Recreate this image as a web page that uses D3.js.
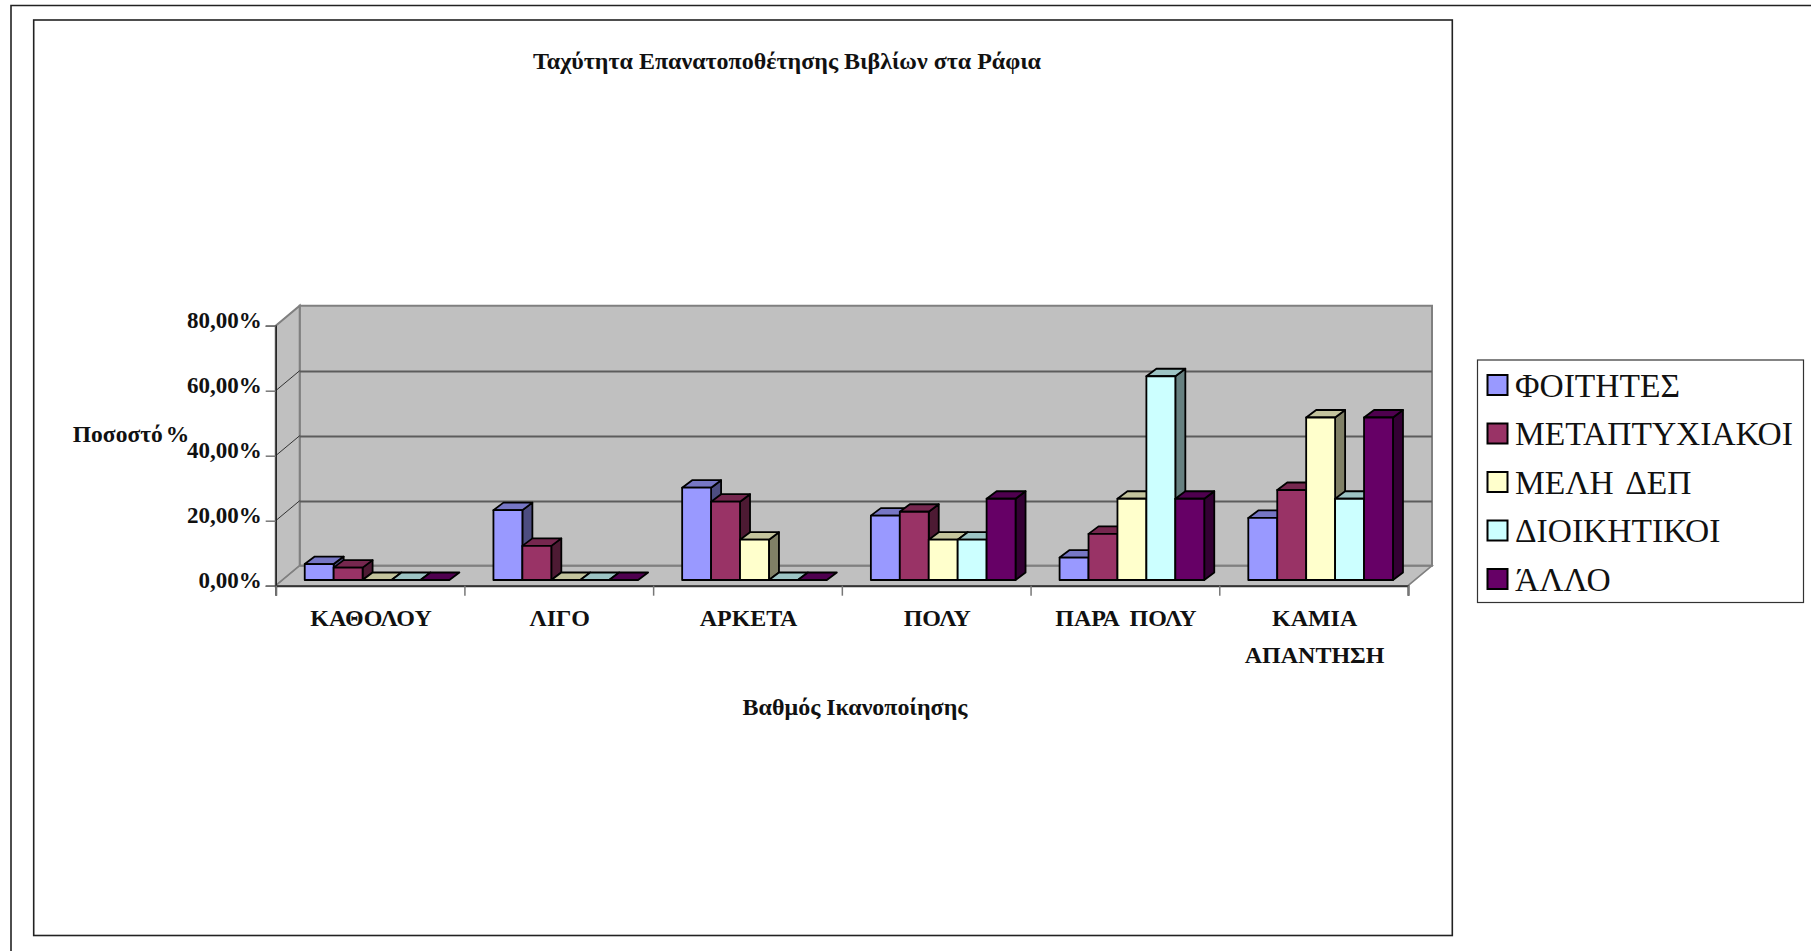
<!DOCTYPE html>
<html><head><meta charset="utf-8">
<script src="https://cdn.jsdelivr.net/npm/d3@7"></script>
<style>html,body{margin:0;padding:0;background:#fff;overflow:hidden}svg{display:block}text{font-family:"Liberation Serif",serif;fill:#111}</style>
</head><body><svg id="c" width="1811" height="951"></svg>
<script>
const categories=[["ΚΑΘΟΛΟΥ"],["ΛΙΓΟ"],["ΑΡΚΕΤΑ"],["ΠΟΛΥ"],["ΠΑΡΑ ΠΟΛΥ"],["ΚΑΜΙΑ","ΑΠΑΝΤΗΣΗ"]];
const seriesNames=["ΦΟΙΤΗΤΕΣ","ΜΕΤΑΠΤΥΧΙΑΚΟΙ","ΜΕΛΗ ΔΕΠ","ΔΙΟΙΚΗΤΙΚΟΙ","ΆΛΛΟ"];
const colors=["#9999ff","#993366","#ffffcc","#ccffff","#660066"];
const foititesValues=[4.9,21.5,28.4,19.8,6.9,19.1];
const metaptyxiakoiValues=[3.8,10.5,24.1,21.0,14.2,27.7];
const melhDepValues=[0,0,12.4,12.4,25.0,50.0];
const dioikhtikoiValues=[0,0,0,12.4,62.7,25.0];
const alloValues=[0,0,0,25.0,25.0,50.0];
const seriesValues=[foititesValues,metaptyxiakoiValues,melhDepValues,dioikhtikoiValues,alloValues];
const yTicks=[0,20,40,60,80];
const titleText="Ταχύτητα Επανατοποθέτησης Βιβλίων στα Ράφια";
const xTitle="Βαθμός Ικανοποίησης";
const yTitle="Ποσοστό %";

const svg=d3.select("#c");
const pt=a=>a.map(p=>p.join(",")).join(" ");
// frames
svg.append("path").attr("d","M11,951V5.5H1811").attr("fill","none").attr("stroke","#222").attr("stroke-width",1.6);
svg.append("rect").attr("x",33.7).attr("y",20).attr("width",1418.6).attr("height",915.5).attr("fill","#fff").attr("stroke","#222").attr("stroke-width",1.6);

// plot geometry
const L=275.7,R=1408,B=585.7,T=325.7,dx=24,dy=-20;
const y=d3.scaleLinear().domain([0,80]).range([B,T]);
const xCat=d3.scaleBand().domain(categories.map((c,i)=>i)).range([L,R]);
const inner=d3.scaleBand().domain(seriesNames).range([0,xCat.bandwidth()]).paddingOuter(22/28.9);
const g=svg.append("g");
// walls
const wall="#c0c0c0";
g.append("polygon").attr("points",pt([[L+dx,T+dy],[R+dx,T+dy],[R+dx,B+dy],[L+dx,B+dy]])).attr("fill",wall).attr("stroke","#808080").attr("stroke-width",2);
g.append("polygon").attr("points",pt([[L,T],[L+dx,T+dy],[L+dx,B+dy],[L,B]])).attr("fill",wall).attr("stroke","#808080").attr("stroke-width",2);
g.append("polygon").attr("points",pt([[L,B],[R,B],[R+dx,B+dy],[L+dx,B+dy]])).attr("fill",wall).attr("stroke","#808080").attr("stroke-width",1.5);
// gridlines
yTicks.forEach(v=>{
  const yy=y(v);
  if(v<80) g.append("line").attr("x1",L+dx).attr("x2",R+dx).attr("y1",yy+dy+(v?0.7:0)).attr("y2",yy+dy+(v?0.7:0)).attr("stroke",v===0?"#808080":"#5c5c5c").attr("stroke-width",2);
  g.append("line").attr("x1",L).attr("x2",L+dx).attr("y1",yy).attr("y2",yy+dy).attr("stroke",v===0||v===80?"#808080":"#333").attr("stroke-width",1);
});
// axes
const fmt=v=>v.toFixed(2).replace(".",",")+"%";
const yAxis=d3.axisLeft(y).tickValues(yTicks).tickFormat(fmt).tickSize(10).tickPadding(4);
const ya=svg.append("g").attr("transform",`translate(${L},0)`).call(yAxis);
ya.select(".domain").attr("stroke","#222").attr("stroke-width",1.5);
ya.selectAll(".tick line").attr("stroke","#777").attr("stroke-width",1.5);
ya.selectAll(".tick text").attr("font-family",null).attr("font-size",23).attr("font-weight","bold").attr("dy","0.08em").attr("fill","#111");
const xa=svg.append("g").attr("transform",`translate(0,${B})`);
const xTickPos=d3.range(categories.length+1).map(i=>L+i*xCat.step());
xa.call(d3.axisBottom(d3.scaleLinear().domain([L,R]).range([L,R])).tickValues(xTickPos).tickFormat("").tickSize(10));
xa.select(".domain").attr("stroke","#333").attr("stroke-width",2);
xa.selectAll(".tick line").attr("stroke","#777").attr("stroke-width",1.5);
// category labels
categories.forEach((c,i)=>{
  const cx=xCat(i)+xCat.bandwidth()/2+1;
  c.forEach((t,j)=>svg.append("text").attr("x",cx).attr("y",626+j*36.5).attr("text-anchor","middle").attr("font-size",24).attr("font-weight","bold").attr("word-spacing",5).text(t));
});
// bars
const bx=7,by=-5.7,ddx=10,ddy=-7.5;
const barW=inner.bandwidth();
categories.forEach((c,i)=>{
  seriesNames.forEach((s,k)=>{
    const v=seriesValues[k][i];
    const base=d3.rgb(colors[k]);
    const x0=xCat(i)+inner(s)+bx,x1=x0+barW,y0=B+by,y1=y(v)+by;
    const bg=svg.append("g").attr("stroke","#000").attr("stroke-width",1.8).attr("stroke-linejoin","round");
    const top=d3.rgb(base.r*.77,base.g*.77,base.b*.77),side=d3.rgb(base.r*.5,base.g*.5,base.b*.5);
    if(v>0){
      bg.append("polygon").attr("points",pt([[x1,y0],[x1+ddx,y0+ddy],[x1+ddx,y1+ddy],[x1,y1]])).attr("fill",side);
    }
    bg.append("polygon").attr("points",pt([[x0,y1],[x0+ddx,y1+ddy],[x1+ddx,y1+ddy],[x1,y1]])).attr("fill",top);
    if(v>0) bg.append("rect").attr("x",x0).attr("y",y1).attr("width",barW).attr("height",y0-y1).attr("fill",colors[k]);
  });
});
// titles
svg.append("text").attr("x",787).attr("y",69).attr("text-anchor","middle").attr("font-size",24).attr("font-weight","bold").text(titleText);
svg.append("text").attr("x",855).attr("y",715).attr("text-anchor","middle").attr("font-size",24).attr("font-weight","bold").text(xTitle);
svg.append("text").attr("x",131).attr("y",442).attr("text-anchor","middle").attr("font-size",23.5).attr("font-weight","bold").attr("word-spacing",-3).text(yTitle);
// legend
svg.append("rect").attr("x",1477.5).attr("y",360).attr("width",326).attr("height",242.5).attr("fill","#fff").attr("stroke","#333").attr("stroke-width",1.2);
const ly=d3.scalePoint().domain(seriesNames).range([385,579]);
seriesNames.forEach((s,k)=>{
  svg.append("rect").attr("x",1487.5).attr("y",ly(s)-10).attr("width",20).attr("height",20).attr("fill",colors[k]).attr("stroke","#000").attr("stroke-width",2);
  svg.append("text").attr("x",1515).attr("y",ly(s)+11.5).attr("font-size",33.5).attr("word-spacing",5).text(s);
});
</script></body></html>
